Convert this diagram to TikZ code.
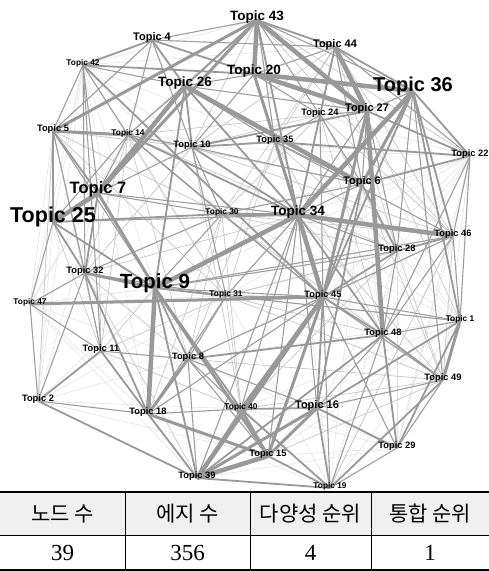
\documentclass[tikz,border=0pt]{standalone}
\usepackage{fontspec}
\setmainfont{Liberation Sans}
\newfontfamily\krfont{Noto Sans CJK KR}
\newfontfamily\numfont{Liberation Serif}
\usetikzlibrary{backgrounds}

\begin{document}
\begin{tikzpicture}[x=1pt,y=-1pt,
    topic/.style={anchor=base,inner sep=0pt,font=\bfseries\fontsize{9.3}{10}\selectfont},
    topicxs/.style={topic,font=\bfseries\fontsize{8.3}{9}\selectfont},
    topicmd/.style={topic,font=\bfseries\fontsize{11}{12}\selectfont},
    topiclg/.style={topic,font=\bfseries\fontsize{13.5}{14}\selectfont},
    topicbig/.style={topic,font=\bfseries\fontsize{16.5}{17}\selectfont},
    topichub/.style={topic,font=\bfseries\fontsize{20}{21}\selectfont},
    heavy/.style={draw=black!40,line width=4.5pt},
    strong/.style={draw=black!40,line width=3pt},
    medium/.style={draw=black!40,line width=1.8pt},
    thin/.style={draw=black!38,line width=1.1pt},
    light/.style={draw=black!22,line width=0.7pt},
    faint/.style={draw=black!12,line width=0.5pt},
    head/.style={font=\krfont\fontsize{21}{22}\selectfont,inner sep=0pt},
    cell/.style={font=\numfont\fontsize{23}{24}\selectfont,inner sep=0pt},
]
\useasboundingbox (0,0) rectangle (489,571);

% topics
\node[topiclg]  (t43) at (257,20)  {Topic 43};
\node[topicmd]  (t4)  at (152,40)  {Topic 4};
\node[topicxs]  (t42) at (83,65)   {Topic 42};
\node[topicmd]  (t44) at (335,47)  {Topic 44};
\node[topiclg]  (t20) at (254,74)  {Topic 20};
\node[topiclg]  (t26) at (185,86)  {Topic 26};
\node[topichub] (t36) at (413,91)  {Topic 36};
\node[topicmd]  (t27) at (367,111) {Topic 27};
\node[topic]    (t24) at (320,115) {Topic 24};
\node[topic]    (t5)  at (53,131)  {Topic 5};
\node[topicxs]  (t14) at (128,135) {Topic 14};
\node[topic]    (t10) at (192,147) {Topic 10};
\node[topic]    (t35) at (275,142) {Topic 35};
\node[topic]    (t22) at (470,156) {Topic 22};
\node[topicmd]  (t6)  at (362,184) {Topic 6};
\node[topicbig] (t7)  at (98,193)  {Topic 7};
\node[topichub,font=\bfseries\fontsize{21.5}{22}\selectfont] (t25) at (53,222) {Topic 25};
\node[topicxs]  (t30) at (222,214) {Topic 30};
\node[topiclg]  (t34) at (298,215) {Topic 34};
\node[topic]    (t46) at (453,236) {Topic 46};
\node[topic]    (t28) at (397,251) {Topic 28};
\node[topic]    (t32) at (85,273)  {Topic 32};
\node[topichub,font=\bfseries\fontsize{20.5}{21}\selectfont] (t9) at (155,288) {Topic 9};
\node[topicxs]  (t47) at (30,304)  {Topic 47};
\node[topicxs]  (t31) at (226,296) {Topic 31};
\node[topic]    (t45) at (323,297) {Topic 45};
\node[topicxs]  (t1)  at (460,321) {Topic 1};
\node[topic]    (t48) at (383,335) {Topic 48};
\node[topic]    (t11) at (101,351) {Topic 11};
\node[topic]    (t8)  at (188,359) {Topic 8};
\node[topic]    (t49) at (443,380) {Topic 49};
\node[topic]    (t2)  at (38,401)  {Topic 2};
\node[topic]    (t18) at (148,414) {Topic 18};
\node[topicxs]  (t40) at (241,409) {Topic 40};
\node[topicmd]  (t16) at (317,408) {Topic 16};
\node[topic]    (t29) at (397,448) {Topic 29};
\node[topic]    (t15) at (268,456) {Topic 15};
\node[topic]    (t39) at (197,478) {Topic 39};
\node[topicxs]  (t19) at (330,488) {Topic 19};

% edges
\begin{scope}[on background layer]
\foreach \a/\b in {t22/t10,t22/t30,t22/t31,t22/t14,t22/t24,t22/t28,t22/t49,t22/t45,t22/t16,t22/t29,t22/t9,t22/t34,
    t47/t5,t47/t7,t47/t14,t47/t9,t47/t31,t47/t8,t47/t18,t47/t39,t47/t42,
    t2/t25,t2/t9,t2/t8,t2/t40,t2/t15,t2/t31,t2/t7,t2/t5,t2/t42,
    t42/t25,t42/t9,t42/t31,t42/t18,t42/t10,t42/t30,t42/t35,t42/t43,t42/t44,
    t1/t28,t1/t34,t1/t6,t1/t15,t1/t19,t1/t40,t1/t8,t1/t9,t1/t30,
    t19/t18,t19/t8,t19/t31,t19/t28,t19/t46,t19/t34,t19/t6,
    t29/t15,t29/t40,t29/t39,t29/t28,t29/t46,t29/t6,t29/t8}
  \draw[faint] (\a.base) -- (\b.base);
\foreach \a/\b in {t43/t10,t43/t14,t43/t46,t43/t22,t44/t35,t44/t10,t44/t30,t44/t46,t44/t28,t44/t1,
    t5/t10,t5/t30,t5/t31,t5/t11,t5/t2,t14/t31,t14/t8,t14/t11,t14/t6,t14/t28,t14/t24,
    t46/t31,t46/t8,t46/t30,t46/t10,t46/t49,t46/t19,t49/t8,t49/t15,t49/t40,t49/t28,t49/t6,t49/t34,
    t11/t9,t11/t39,t11/t31,t11/t40,t11/t25,t11/t7,t40/t31,t40/t30,t40/t28,t40/t10,
    t31/t28,t31/t48,t31/t49,t30/t8,t30/t18,t30/t48,t30/t28,t24/t10,t24/t30,t24/t28,t24/t46,t24/t48,
    t35/t31,t35/t8,t35/t28,t35/t48,t32/t8,t32/t39,t32/t34,t32/t10,t32/t14}
  \draw[light] (\a.base) -- (\b.base);
\foreach \a/\b in {t4/t43,t4/t44,t4/t14,t4/t10,t4/t5,t42/t5,t42/t32,t42/t11,t42/t7,t42/t14,t42/t26,
    t5/t25,t5/t32,t5/t9,t14/t10,t14/t7,t14/t30,t14/t45,t10/t30,t10/t31,t10/t6,
    t35/t24,t35/t34,t35/t6,t35/t46,t24/t27,t24/t6,t24/t45,t27/t36,t27/t6,t27/t28,
    t36/t28,t36/t49,t44/t24,t44/t6,t44/t20,t44/t22,t22/t46,t22/t1,t22/t48,
    t46/t1,t46/t48,t46/t45,t28/t48,t28/t34,t1/t48,t1/t45,t1/t31,t49/t29,t49/t16,t49/t45,
    t48/t16,t48/t19,t29/t19,t29/t45,t19/t45,t15/t8,t15/t34,t40/t39,t40/t18,t40/t8,t40/t34,
    t39/t8,t39/t34,t18/t2,t18/t31,t18/t45,t8/t31,t8/t11,t11/t32,t11/t47,t2/t47,t2/t32,
    t47/t32,t47/t25,t32/t30,t32/t31,t25/t34,t25/t14,t7/t30,t7/t34,t7/t10,t9/t45,t9/t46,
    t9/t28,t9/t30,t31/t45,t31/t34,t30/t6,t30/t45,t34/t6,t34/t27,t34/t35,t20/t26,t20/t24,
    t20/t10,t43/t36,t43/t24,t43/t35,t26/t14,t26/t27,t26/t35,t45/t8,t16/t8,t16/t34}
  \draw[thin] (\a.base) -- (\b.base);
\foreach \a/\b in {t20/t35,t43/t44,t44/t36,t43/t34,t26/t10,t26/t9,t26/t34,t25/t30,t25/t9,
    t25/t32,t25/t5,t7/t32,t9/t31,t9/t8,t9/t39,t9/t40,t11/t18,t11/t2,t18/t32,t18/t39,t2/t39,
    t8/t48,t16/t29,t16/t19,t16/t45,t19/t39,t19/t15,t19/t40,t19/t49,t48/t45,t48/t49,
    t6/t22,t6/t45,t36/t22,t36/t46,t36/t1,t27/t22,t35/t22,t42/t45,t42/t20,t4/t42,t4/t26,
    t4/t20,t14/t34,t10/t35,t10/t27,t28/t46,t28/t45,t29/t48,t29/t1,t16/t1,t34/t48,t5/t7,
    t43/t26,t24/t34,t24/t44,t10/t34,t6/t28,t16/t6,t39/t48,t40/t16,t36/t45}
  \draw[medium] (\a.base) -- (\b.base);
\foreach \a/\b in {t20/t34,t45/t15,t15/t16,t39/t16,t30/t34,t27/t45,t43/t5,t7/t43,t7/t9,
    t9/t32,t18/t8,t18/t15,t40/t45,t1/t49,t47/t45,t40/t15,t5/t14,t9/t15,t36/t6}
  \draw[strong] (\a.base) -- (\b.base);
\foreach \a/\b in {t43/t20,t43/t27,t20/t36,t20/t27,t44/t27,t34/t45,t36/t34,t34/t46,
    t7/t25,t9/t34,t9/t18,t45/t39,t39/t15,t26/t6,t27/t48,t7/t26}
  \draw[heavy] (\a.base) -- (\b.base);
\end{scope}

% table
\fill[black!6] (0,492) rectangle (489,535);
\draw[line width=1.6pt] (0,492) -- (489,492);
\draw[line width=0.8pt] (0,535) -- (489,535);
\draw[line width=1.6pt] (0,570) -- (489,570);
\foreach \x in {125,250,371}
  \draw[line width=0.8pt] (\x,492) -- (\x,570);
\node[head] (h1) at (62.5,514)  {노드 수};
\node[head] (h2) at (187.5,514) {에지 수};
\node[head] (h3) at (310.5,514) {다양성 순위};
\node[head] (h4) at (430,514)   {통합 순위};
\node[cell] (c1) at (62.5,553)  {39};
\node[cell] (c2) at (187.5,553) {356};
\node[cell] (c3) at (310.5,553) {4};
\node[cell] (c4) at (430,553)   {1};
\end{tikzpicture}
\end{document}
